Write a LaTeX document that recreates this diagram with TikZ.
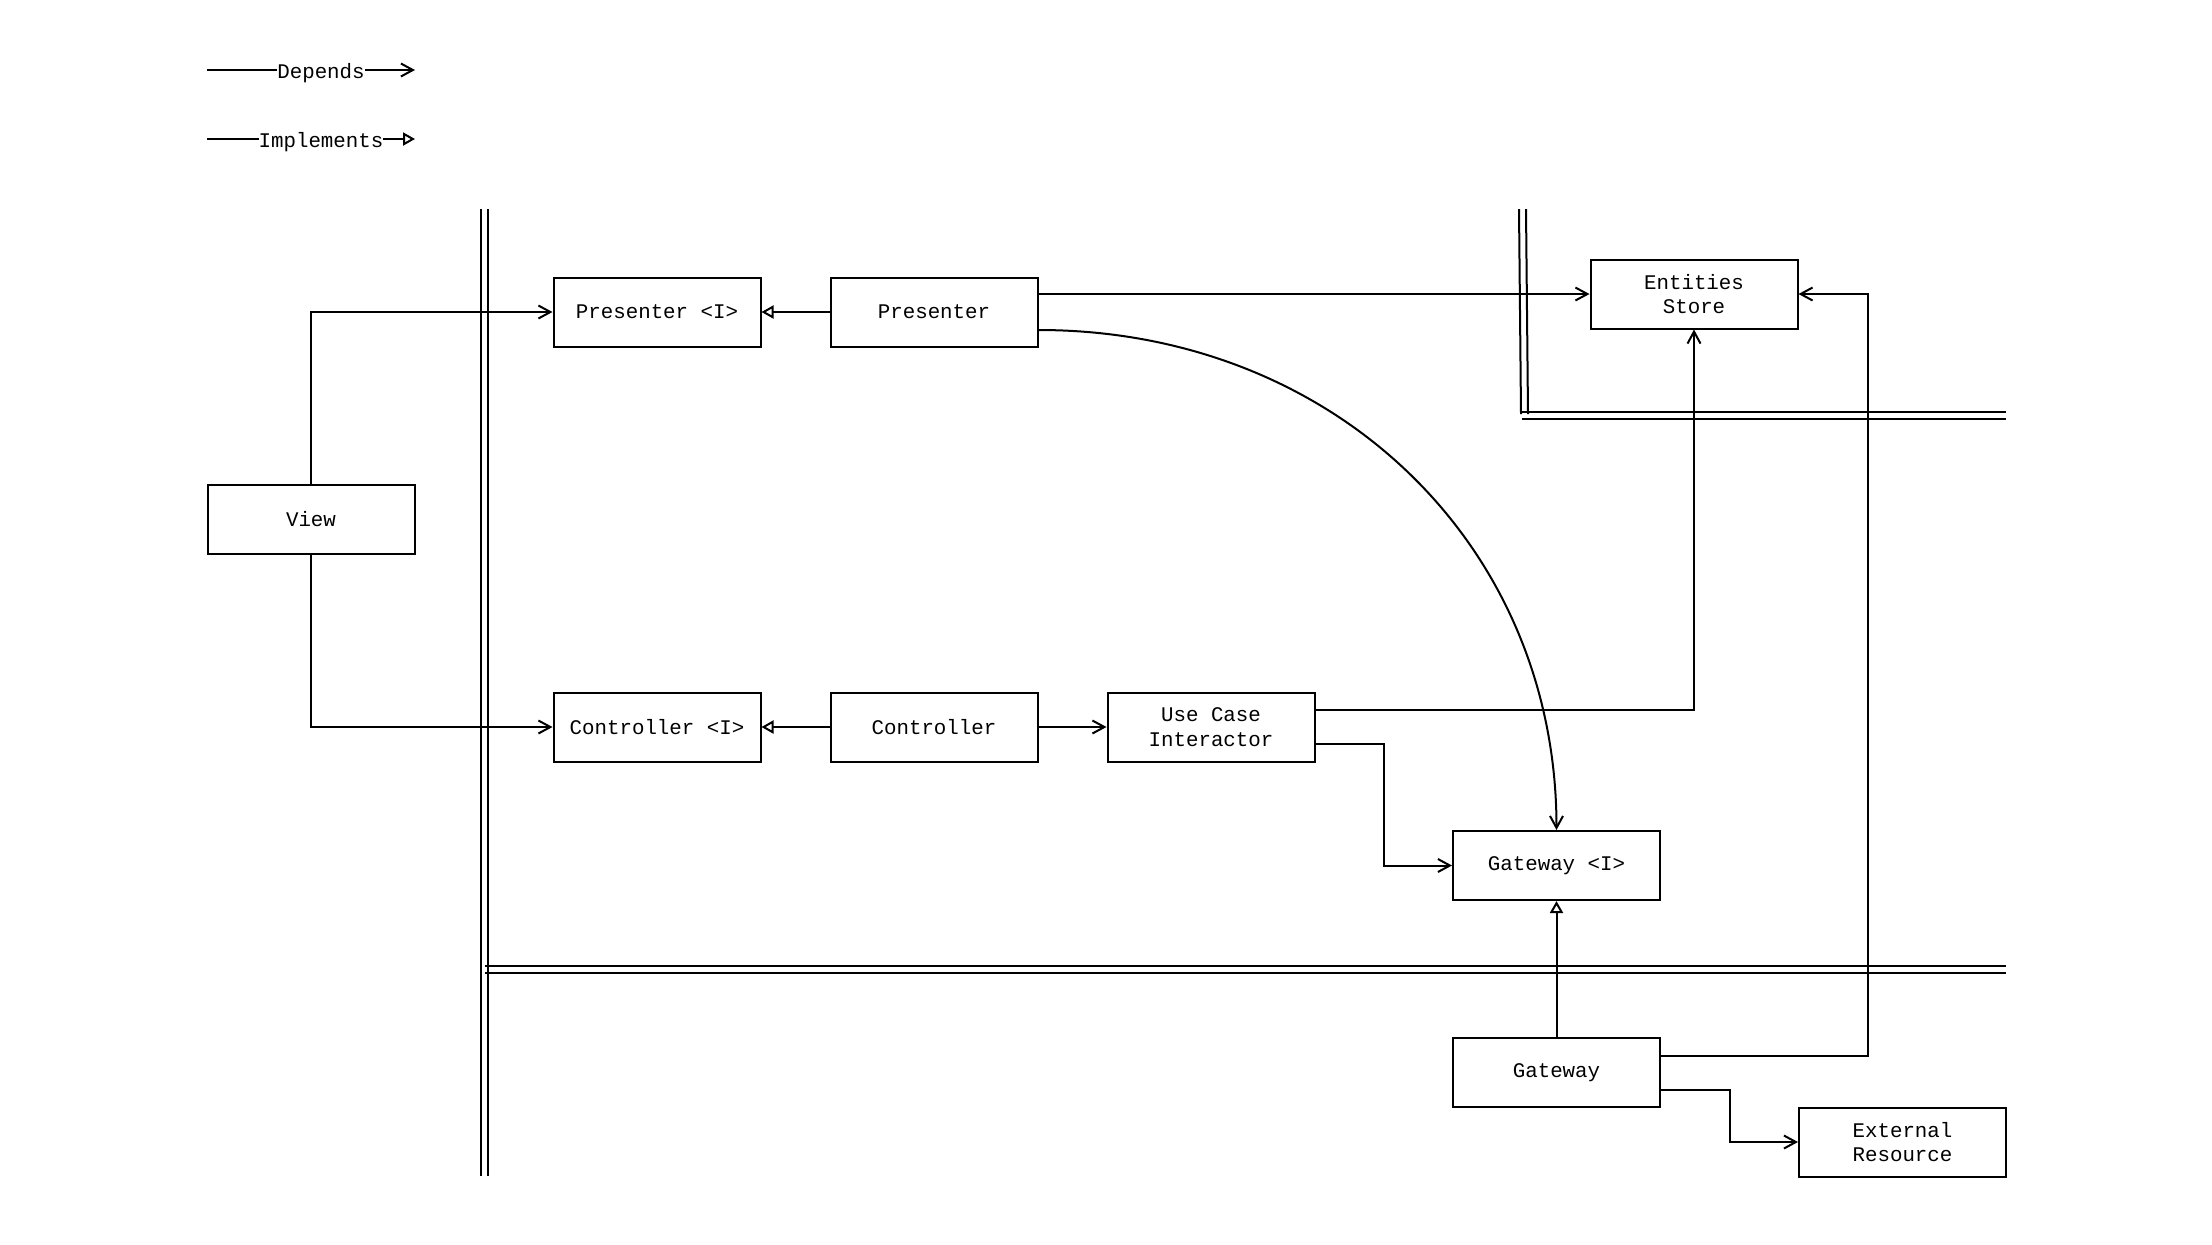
\documentclass[tikz,border=0pt]{standalone}
\usepackage{fontspec}
\setmainfont{Liberation Mono}
\usetikzlibrary{arrows.meta,calc}
\begin{document}
\begin{tikzpicture}[x=0.5pt,y=-0.5pt,
  box/.style={draw, line width=1pt, minimum width=103.5pt, minimum height=34.5pt,
    inner sep=0pt, align=center, font=\fontsize{10.4}{12.4}\selectfont},
  dep/.style={draw, line width=1pt, -{Straight Barb[length=6pt,width=6.5pt]}},
  impl/.style={draw, line width=1pt, -{Triangle[open,length=6pt,width=6.5pt,fill=white]}},
  layer/.style={draw, line width=1pt},
  legend/.style={fill=white, inner sep=0pt, font=\fontsize{10.4}{12.4}\selectfont}
]
\useasboundingbox (0,0) rectangle (2212,1244);

% legend
\coordinate (d1) at (207,70);
\coordinate (d2) at (415,70);
\draw[dep] (d1) -- (d2);
\node[legend] (dl) at (321,73) {Depends};
\coordinate (i1) at (207,139);
\coordinate (i2) at (415,139);
\draw[impl] (i1) -- (i2);
\node[legend] (il) at (321,142.5) {Implements};

% layer boundaries
\draw[layer] (481,209) -- (481,1176);
\draw[layer] (488,209) -- (488,1176);
\draw[layer] (485,965.5) -- (2006,965.5);
\draw[layer] (485,972.5) -- (2006,972.5);
\draw[layer] (1519,209) -- (1521,414);
\draw[layer] (1526,209) -- (1528,414);
\draw[layer] (1521,412) -- (2006,412);
\draw[layer] (1522,419) -- (2006,419);

% nodes
\node[box] (View) at (311,519) {View};
\node[box] (PresI) at (657,312) {Presenter <I>};
\node[box] (Pres) at (934,312) {Presenter};
\node[box] (Ent) at (1694,294) {Entities\\Store};
\node[box] (CtrlI) at (657,727) {Controller <I>};
\node[box] (Ctrl) at (934,727) {Controller};
\node[box] (UC) at (1211,727) {Use Case\\Interactor};
\node[box] (GwI) at (1556.5,865.5) {Gateway <I>};
\node[box] (Gw) at (1556.5,1072.5) {Gateway};
\node[box] (Ext) at (1902.5,1142) {External\\Resource};

% connectors
\draw[dep] (View.north) |- (PresI.west);
\draw[dep] (View.south) |- (CtrlI.west);
\draw[impl] (Pres.west) -- (PresI.east);
\draw[impl] (Ctrl.west) -- (CtrlI.east);
\draw[dep] (Ctrl.east) -- (UC.west);
\draw[dep] (Pres.east |- Ent.west) -- (Ent.west);
\draw[dep] ([yshift=-9pt]Pres.east) .. controls +(295,0) and +(0,-286) .. (GwI.north);
\draw[dep] ([yshift=8.5pt]UC.east) -| (Ent.south);
\draw[dep] ([yshift=-8.5pt]UC.east) -| ($(UC.east)!0.5!(GwI.west)$) |- (GwI.west);
\draw[impl] (Gw.north) -- (GwI.south);
\draw[dep] ([yshift=8.5pt]Gw.east) -| ([xshift=34.5pt]Ent.east) -- (Ent.east);
\draw[dep] ([yshift=-8.5pt]Gw.east) -| ($(Gw.east)!0.5!(Ext.west)$) |- (Ext.west);
\end{tikzpicture}
\end{document}
